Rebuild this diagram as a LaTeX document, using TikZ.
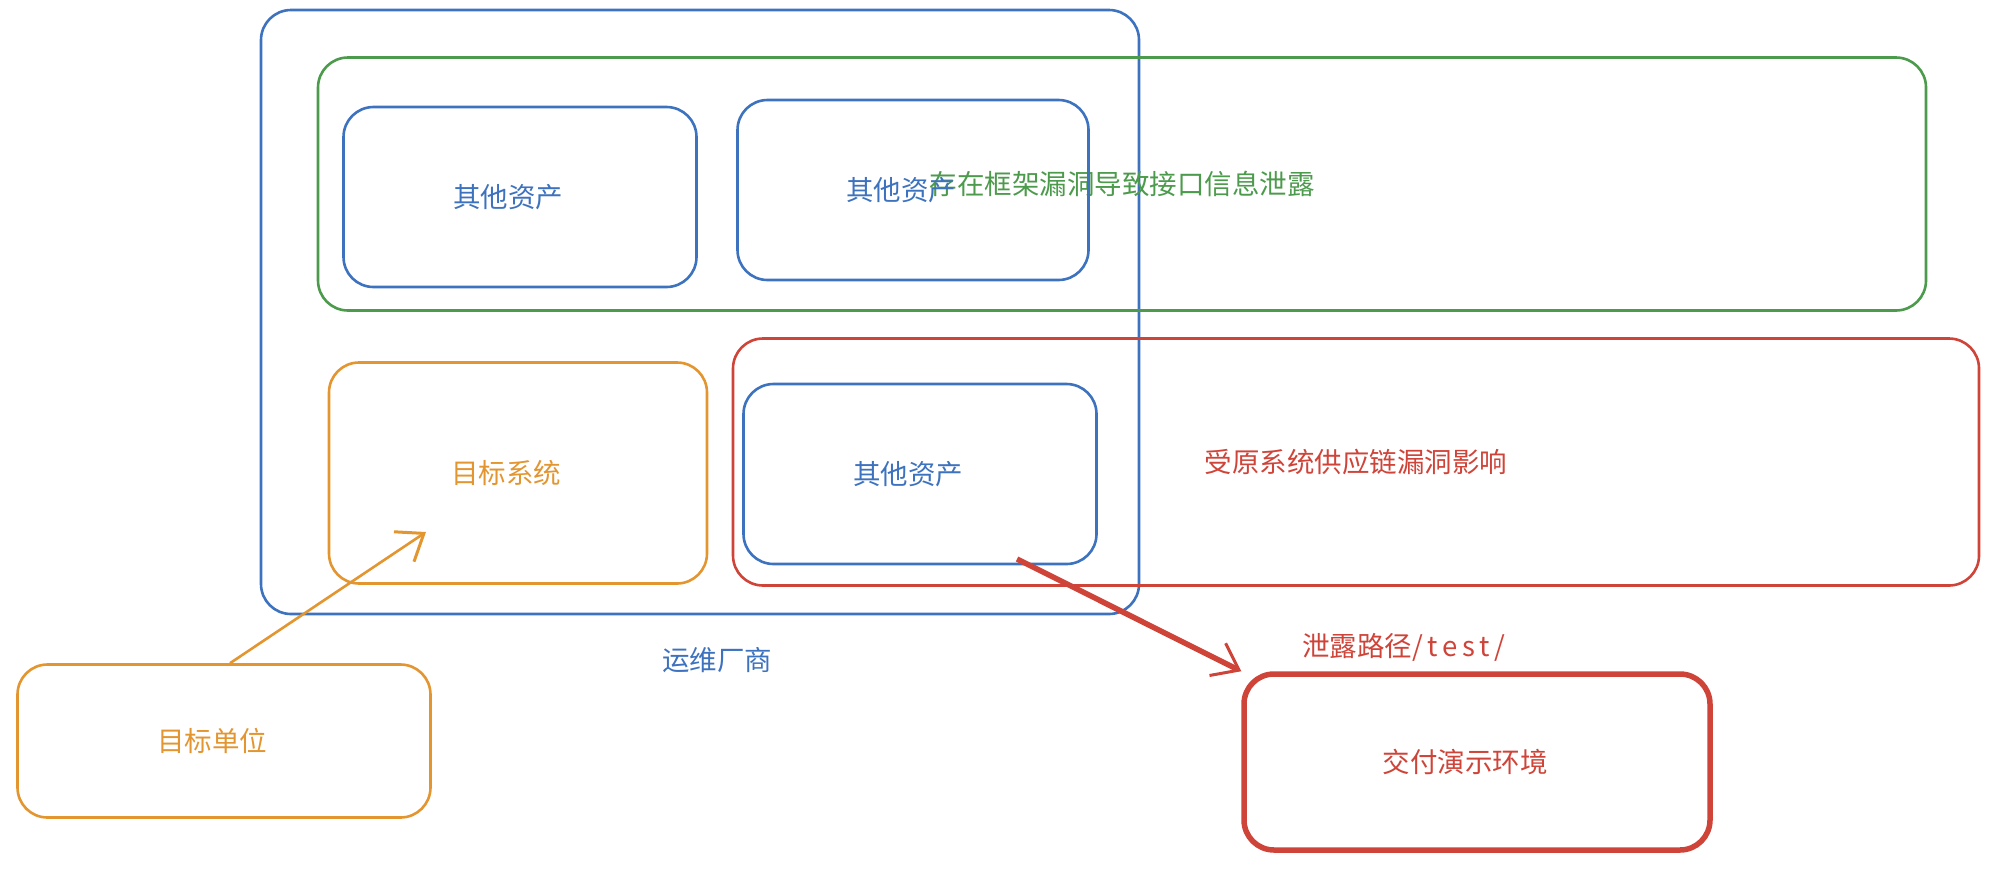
\documentclass[tikz,border=0pt]{standalone}
\usepackage{fontspec}
\setmainfont{Noto Sans CJK SC}
\usepackage{xcolor}
\usetikzlibrary{arrows.meta}

\definecolor{skblue}{HTML}{3D72BE}
\definecolor{skgreen}{HTML}{4C9A4C}
\definecolor{skorange}{HTML}{E39530}
\definecolor{skred}{HTML}{CF4439}

\tikzset{
  sketchbox/.style={draw, line width=2.6pt, rounded corners=30pt, inner sep=0pt,
    font=\fontsize{27.5}{32}\selectfont},
  boxtext/.style={label={[font=\fontsize{27.5}{32}\selectfont, inner sep=0pt, xshift=-12pt]center:#1}},
  assetbox/.style={sketchbox, draw=skblue, minimum width=353pt, minimum height=180pt,
    boxtext={\textcolor{skblue}{其他资产}}},
  freetext/.style={font=\fontsize{27.5}{32}\selectfont, inner sep=0pt},
  barb/.style={-{Straight Barb[length=24pt, width=36pt, line width=3pt]}}
}

\begin{document}
\begin{tikzpicture}[x=1pt, y=-1pt]
\useasboundingbox (0,0) rectangle (2005,895);
% outer boxes
\node[sketchbox, draw=skblue, minimum width=878pt, minimum height=604pt] (vendor) at (700,312) {};
\node[sketchbox, draw=skgreen, text=skgreen, minimum width=1608pt, minimum height=253pt] (leak) at (1122,184) {存在框架漏洞导致接口信息泄露};
\node[sketchbox, draw=skred, text=skred, minimum width=1246pt, minimum height=247pt] (supply) at (1356,462) {受原系统供应链漏洞影响};
% inner boxes
\node[assetbox] (asset1) at (520,197) {};
\node[assetbox, minimum width=351pt] (asset2) at (913,190) {};
\node[assetbox] (asset3) at (920,474) {};
\node[sketchbox, draw=skorange, minimum width=378pt, minimum height=221pt,
  boxtext={\textcolor{skorange}{目标系统}}] (target) at (518,473) {};
\node[freetext, text=skblue] (vendorlabel) at (717,660) {运维厂商};
% outside
\node[sketchbox, draw=skorange, minimum width=413pt, minimum height=153pt,
  boxtext={\textcolor{skorange}{目标单位}}] (unit) at (224,741) {};
\node[sketchbox, draw=skred, line width=5.5pt, minimum width=466pt, minimum height=176pt,
  boxtext={\textcolor{skred}{交付演示环境}}] (demo) at (1477,762) {};
\node[freetext, text=skred] (pathlabel) at (1404,647) {泄露路径/\,t\,e\,s\,t\,/};
% arrows
\coordinate (tgtend) at (426,532);
\coordinate (redstart) at (1017,559);
\draw[barb, skorange, line width=2.6pt] (unit.north -| 230,0) -- (tgtend);
\draw[barb, skred, line width=5.5pt] (redstart) -- (demo.north west);
\end{tikzpicture}
\end{document}
